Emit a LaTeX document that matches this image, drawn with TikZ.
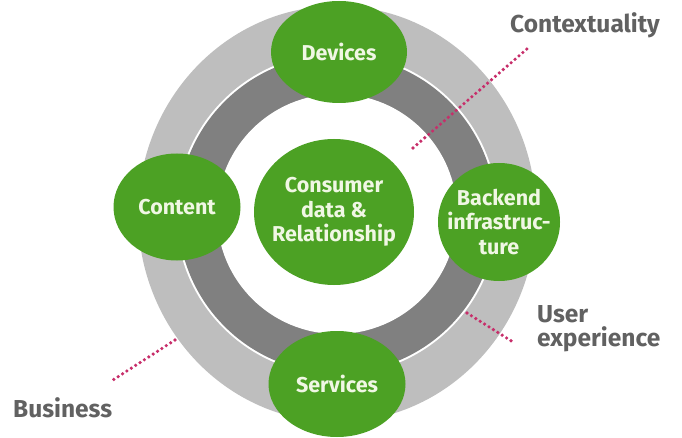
\documentclass[tikz,border=0pt]{standalone}
\usepackage{fontspec}
\setmainfont{Fira Sans}
\usepackage{tikz}
\usetikzlibrary{positioning, shapes.geometric}
\definecolor{ringlight}{RGB}{190,190,190}
\definecolor{ringdark}{RGB}{128,128,128}
\definecolor{leafgreen}{RGB}{76,161,36}
\definecolor{paletext}{RGB}{240,247,228}
\colorlet{labelgray}{black!62}
\colorlet{dotred}{magenta!70!red!80!black}
\tikzset{
  topic/.style={ellipse,fill=leafgreen,text=paletext,align=center,inner sep=-16pt,
    font=\fontsize{21.5}{24.5}\selectfont\bfseries},
  aspect/.style={text=labelgray,align=left,inner sep=0pt,
    font=\fontsize{24.5}{24}\selectfont\bfseries},
  dotline/.style={dotred,line width=3.6pt,line cap=round,dash pattern=on 0pt off 5.2pt}
}

\begin{document}
\begin{tikzpicture}[x=1pt,y=-1pt]
  \useasboundingbox (0,0) rectangle (682,438);

  % rings
  \fill[ringlight] (337,214) ellipse [x radius=199, y radius=208];
  \fill[white] (337,214) circle [radius=161];
  \fill[ringdark] (337,214) circle [radius=159];
  \fill[white] (337,214) circle [radius=120];

  % topics
  \node[topic, minimum width=160, minimum height=146] (core) at (334,212) {Consumer\\data \&\\Relationship};
  \node[topic, minimum width=136, minimum height=102] (devices) at (339,52) {Devices};
  \node[topic, minimum width=137, minimum height=106] (services) at (337,384) {Services};
  \node[topic, minimum width=127, minimum height=107] (content) at (177,207) {Content};
  \node[topic, minimum width=122, minimum height=118] (backend) at (499,222) {Backend\\infrastruc-\\ture};

  % aspects
  \node[aspect, anchor=base west] (context) at (510,33) {Contextuality};
  \node[aspect, anchor=base west] (user) at (537,346) {User\\experience};
  \node[aspect, anchor=base west] (business) at (13,417) {Business};

  \coordinate (context-in) at (413,148);
  \coordinate (context-out) at (528,48);
  \coordinate (user-in) at (467,313);
  \coordinate (user-out) at (513,342);
  \coordinate (business-in) at (175,340);
  \coordinate (business-out) at (113,380);

  \draw[dotline] (context-in) -- (context-out);
  \draw[dotline] (user-in) -- (user-out);
  \draw[dotline] (business-in) -- (business-out);
\end{tikzpicture}
\end{document}
